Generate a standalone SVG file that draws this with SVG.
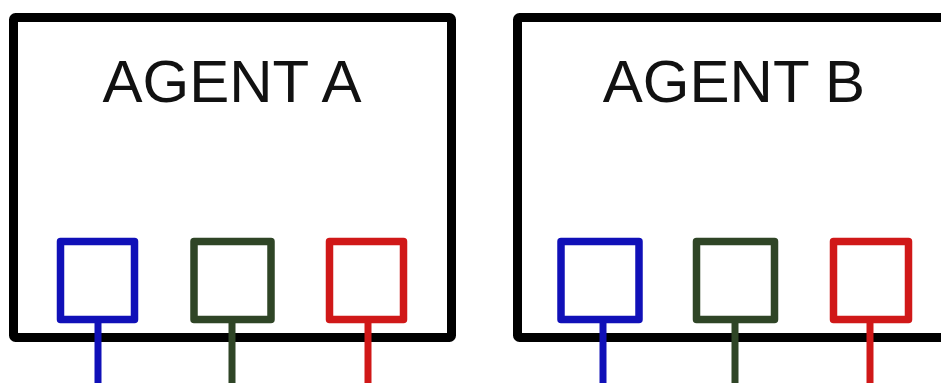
<svg xmlns="http://www.w3.org/2000/svg" width="941" height="383" viewBox="0 0 941 383">
<style>
.agent{fill:#fff;stroke:#000;stroke-width:9;stroke-linejoin:round}
.lbl{font-family:"Liberation Sans",Arial,sans-serif;font-size:60px;fill:#111;text-anchor:middle}
.port{fill:#fff;stroke-width:7.5;stroke-linejoin:round}
.blue{stroke:#1010b8}
.green{stroke:#2f4526}
.red{stroke:#d01818}
.wire{stroke-width:7;fill:none}
</style>
<rect width="941" height="383" fill="#fff"/>
<g id="agentA">
<rect class="agent" x="13.5" y="17.5" width="438" height="320" rx="2"/>
<text class="lbl" x="232" y="102">AGENT A</text>
</g>
<g id="agentB">
<rect class="agent" x="517.5" y="17.5" width="440" height="320" rx="2"/>
<text class="lbl" x="734" y="102">AGENT B</text>
</g>
<g id="connectors">
<line class="wire blue" x1="98" y1="320" x2="98" y2="383"/>
<line class="wire green" x1="232" y1="320" x2="232" y2="383"/>
<line class="wire red" x1="368" y1="320" x2="368" y2="383"/>
<line class="wire blue" x1="603" y1="320" x2="603" y2="383"/>
<line class="wire green" x1="735" y1="320" x2="735" y2="383"/>
<line class="wire red" x1="870" y1="320" x2="870" y2="383"/>
</g>
<g id="portA1"><rect class="port blue" x="60.5" y="241.5" width="74" height="78"/></g>
<g id="portA2"><rect class="port green" x="194" y="241.5" width="77" height="78"/></g>
<g id="portA3"><rect class="port red" x="329.5" y="241.5" width="74" height="78"/></g>
<g id="portB1"><rect class="port blue" x="561" y="241.5" width="78" height="78"/></g>
<g id="portB2"><rect class="port green" x="696.5" y="241.5" width="78" height="78"/></g>
<g id="portB3"><rect class="port red" x="833.5" y="241.5" width="75" height="78"/></g>
</svg>
